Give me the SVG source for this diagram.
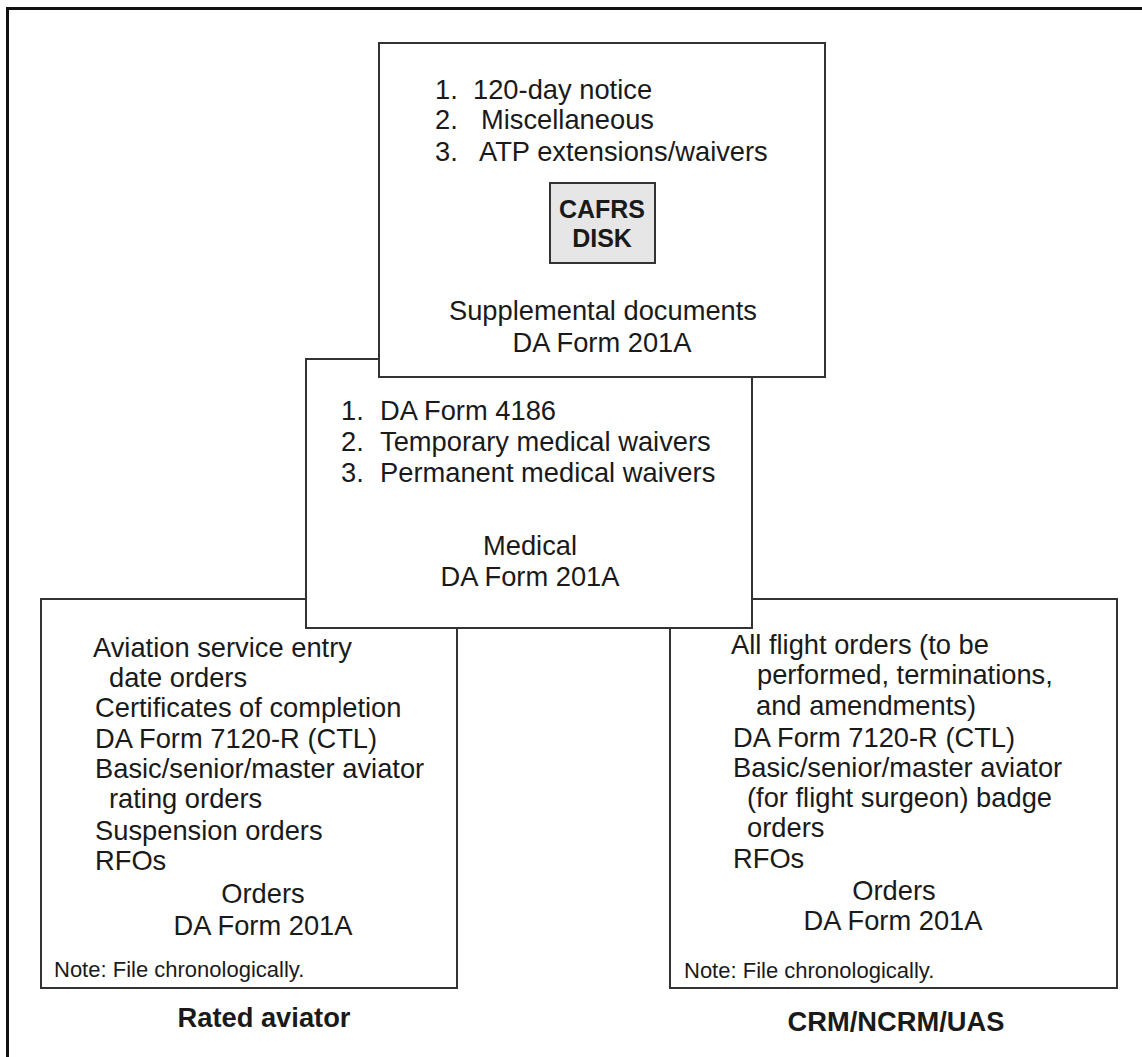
<svg xmlns="http://www.w3.org/2000/svg" width="1142" height="1057" viewBox="0 0 1142 1057">
<style>
.box{fill:#fff;stroke:#333;stroke-width:2}
.disk{fill:#e6e6e6;stroke:#333;stroke-width:2}
.t{font-family:"Liberation Sans",Arial,sans-serif;font-size:27.3px;fill:#1a1a1a}
.c{text-anchor:middle}
.b{font-weight:bold}
.n{font-family:"Liberation Sans",Arial,sans-serif;font-size:22px;fill:#1a1a1a}
</style>
<rect width="1142" height="1057" fill="#fff"/>
<g id="frame"><path d="M7.5 1057 V8.5 H1142" fill="none" stroke="#111" stroke-width="3"/></g>
<g id="connectors"></g>
<g id="rated-aviator">
<rect class="box" x="41" y="599" width="416" height="389"/>
<text class="t" x="93" y="657">Aviation service entry</text>
<text class="t" x="109" y="687">date orders</text>
<text class="t" x="95" y="717">Certificates of completion</text>
<text class="t" x="95" y="748">DA Form 7120-R (CTL)</text>
<text class="t" x="95" y="778">Basic/senior/master aviator</text>
<text class="t" x="109" y="808">rating orders</text>
<text class="t" x="95" y="840">Suspension orders</text>
<text class="t" x="95" y="870">RFOs</text>
<text class="t c" x="263" y="903">Orders</text>
<text class="t c" x="263" y="935">DA Form 201A</text>
<text class="n" x="54" y="977">Note: File chronologically.</text>
<text class="t c b" x="264" y="1027">Rated aviator</text>
</g>
<g id="crm">
<rect class="box" x="670" y="599" width="447" height="389"/>
<text class="t" x="731" y="654">All flight orders (to be</text>
<text class="t" x="757" y="684">performed, terminations,</text>
<text class="t" x="756" y="715">and amendments)</text>
<text class="t" x="733" y="747">DA Form 7120-R (CTL)</text>
<text class="t" x="733" y="777">Basic/senior/master aviator</text>
<text class="t" x="747" y="807">(for flight surgeon) badge</text>
<text class="t" x="747" y="837">orders</text>
<text class="t" x="733" y="868">RFOs</text>
<text class="t c" x="894" y="900">Orders</text>
<text class="t c" x="893" y="930">DA Form 201A</text>
<text class="n" x="684" y="978">Note: File chronologically.</text>
<text class="t c b" x="896" y="1031">CRM/NCRM/UAS</text>
</g>
<g id="medical">
<rect class="box" x="306" y="359" width="446" height="269"/>
<text class="t" x="341" y="420">1.</text><text class="t" x="380" y="420">DA Form 4186</text>
<text class="t" x="341" y="451">2.</text><text class="t" x="380" y="451">Temporary medical waivers</text>
<text class="t" x="341" y="482">3.</text><text class="t" x="380" y="482">Permanent medical waivers</text>
<text class="t c" x="530" y="555">Medical</text>
<text class="t c" x="530" y="586">DA Form 201A</text>
</g>
<g id="supplemental">
<rect class="box" x="379" y="43" width="446" height="334"/>
<text class="t" x="435" y="99">1.</text><text class="t" x="473" y="99">120-day notice</text>
<text class="t" x="435" y="129">2.</text><text class="t" x="481" y="129">Miscellaneous</text>
<text class="t" x="435" y="161">3.</text><text class="t" x="479" y="161">ATP extensions/waivers</text>
<g id="cafrs-disk">
<rect class="disk" x="550" y="183" width="105" height="80"/>
<text class="t c b" x="602" y="218" style="font-size:25px">CAFRS</text>
<text class="t c b" x="602" y="247" style="font-size:25px">DISK</text>
</g>
<text class="t c" x="603" y="320">Supplemental documents</text>
<text class="t c" x="602" y="352">DA Form 201A</text>
</g>
</svg>
